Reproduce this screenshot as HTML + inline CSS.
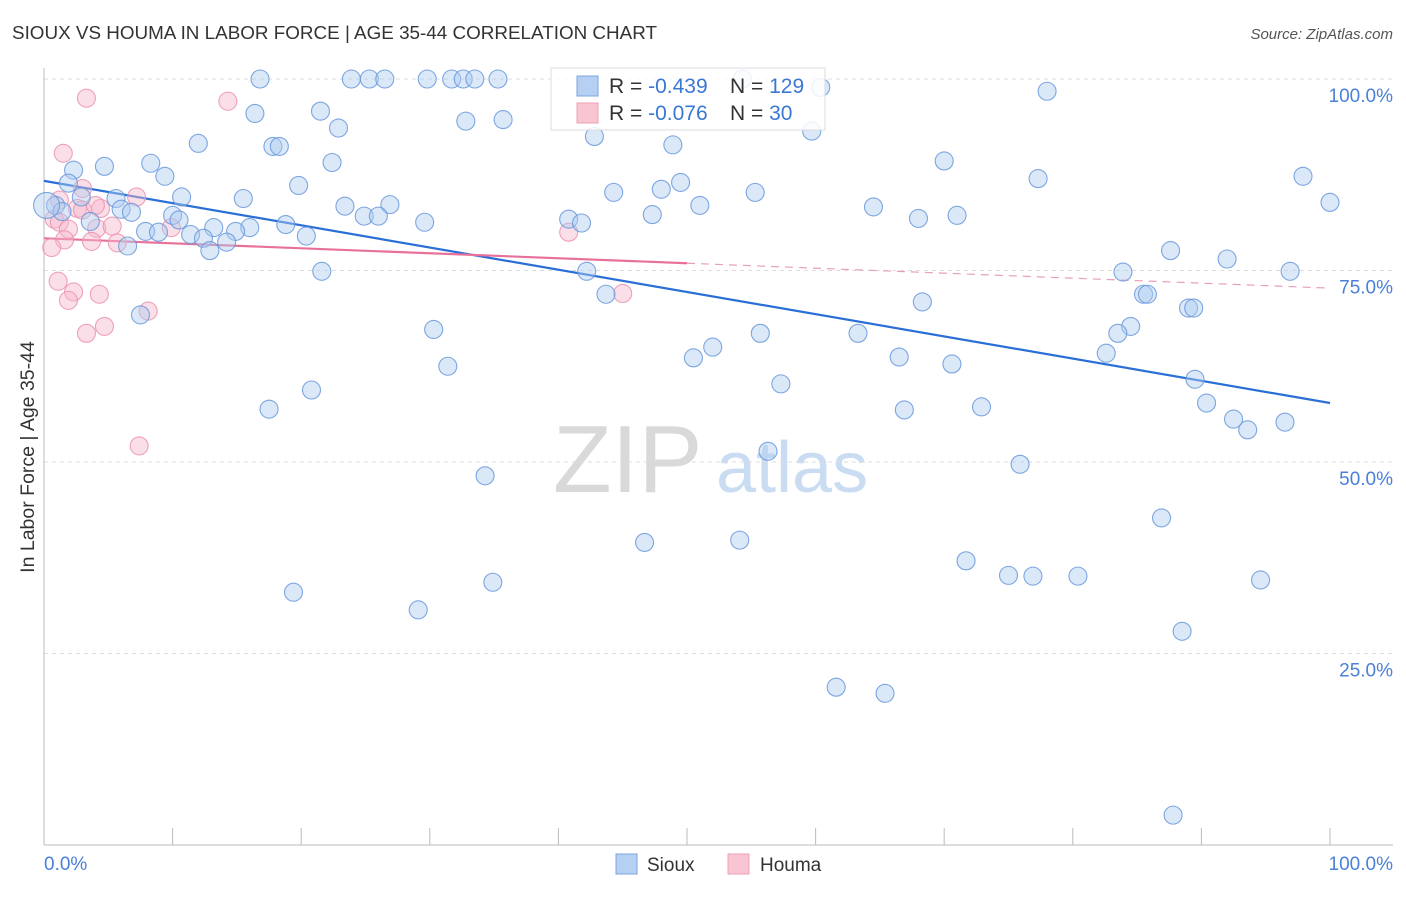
<!DOCTYPE html>
<html><head><meta charset="utf-8"><style>
body{margin:0;background:#fff;font-family:"Liberation Sans",sans-serif;}
svg text{font-family:"Liberation Sans",sans-serif;}
</style></head><body>
<svg id="chart" width="1406" height="892">
<text x="12" y="39" font-size="18.5" fill="#333" textLength="645" lengthAdjust="spacingAndGlyphs">SIOUX VS HOUMA IN LABOR FORCE | AGE 35-44 CORRELATION CHART</text>
<text x="1393" y="39" font-size="15" fill="#555" font-style="italic" text-anchor="end">Source: ZipAtlas.com</text>
<g>
<text x="553" y="492" font-size="96" fill="#d9d9d9" font-family="Liberation Serif,serif">ZIP</text>
<text x="716" y="492" font-size="72" fill="#c9dcf2">atlas</text>
</g>
<g id="grid"></g><g id="axes"></g><g id="trend"></g><g id="pts"></g>
<text transform="translate(34,457) rotate(-90)" font-size="19.5" fill="#333" text-anchor="middle">In Labor Force | Age 35-44</text>
<g>
<rect x="551" y="68" width="274" height="62" fill="#fff" fill-opacity="0.85" stroke="#ddd"/>
<rect x="577" y="76" width="21" height="20" fill="#b5d0f2" stroke="#7ca6e0"/>
<rect x="577" y="103" width="21" height="20" fill="#f9c5d3" stroke="#eea0b7"/>
<text x="609" y="93" font-size="21" fill="#333">R = <tspan fill="#3a78d4">-0.439</tspan></text>
<text x="730" y="93" font-size="21" fill="#333">N = <tspan fill="#3a78d4">129</tspan></text>
<text x="609" y="120" font-size="21" fill="#333">R = <tspan fill="#3a78d4">-0.076</tspan></text>
<text x="730" y="120" font-size="21" fill="#333">N = <tspan fill="#3a78d4"> 30</tspan></text>
</g>
<g>
<rect x="616" y="854" width="21" height="20" fill="#b5d0f2" stroke="#7ca6e0"/>
<text x="647" y="871" font-size="19" fill="#333">Sioux</text>
<rect x="728" y="854" width="21" height="20" fill="#f9c5d3" stroke="#eea0b7"/>
<text x="760" y="871" font-size="19" fill="#333">Houma</text>
</g>
</svg>
<script>
const yTicks=[25,50,75,100];
const yTickLabels=["25.0%","50.0%","75.0%","100.0%"];
const xTicks=[0,10,20,30,40,50,60,70,80,90,100];
const siouxX=[16.8,23.9,25.3,26.5,29.8,31.7,32.6,33.5,35.3,54.3,60.4,78.0,21.5,16.4,32.8,35.7,22.9,59.7,42.8,12.0,17.8,18.3,48.9,22.4,8.3,4.7,70.0,2.3,9.4,77.3,97.9,1.9,19.8,49.5,44.3,48.0,2.9,5.6,10.7,15.5,55.3,100,0.9,1.4,6.0,6.8,23.4,26.9,51.0,64.5,10.0,10.5,3.6,47.3,24.9,26.0,29.6,40.8,41.8,68.0,71.0,18.8,7.9,8.9,13.2,11.4,12.4,16.0,14.9,20.4,14.2,12.9,6.5,87.6,92.0,21.6,42.2,83.9,96.9,43.7,85.5,85.8,68.3,89.0,89.4,7.5,84.5,30.3,83.5,55.7,63.3,52.0,82.6,50.5,66.5,70.6,31.4,57.3,20.8,89.5,90.4,17.5,66.9,72.9,92.5,96.5,93.6,56.3,75.9,34.3,86.9,46.7,54.1,71.7,75.0,76.9,80.4,94.6,34.9,19.4,29.1,88.5,61.6,65.4,87.8,0.2];
const siouxY=[100,100,100,100,100,100,100,100,100,100,98.9,98.4,95.8,95.5,94.5,94.7,93.6,93.2,92.5,91.6,91.2,91.2,91.4,89.1,89.0,88.6,89.3,88.1,87.3,87.0,87.3,86.4,86.1,86.5,85.2,85.6,84.6,84.4,84.6,84.4,85.2,83.9,83.5,82.7,83.0,82.6,83.4,83.6,83.5,83.3,82.2,81.6,81.4,82.3,82.1,82.1,81.3,81.7,81.2,81.8,82.2,81.0,80.1,80.0,80.6,79.7,79.2,80.6,80.1,79.5,78.7,77.6,78.2,77.6,76.5,74.9,74.9,74.8,74.9,71.9,71.9,71.9,70.9,70.1,70.1,69.2,67.7,67.3,66.8,66.8,66.8,65.0,64.2,63.6,63.7,62.8,62.5,60.2,59.4,60.8,57.7,56.9,56.8,57.2,55.6,55.2,54.2,51.4,49.7,48.2,42.7,39.5,39.8,37.1,35.2,35.1,35.1,34.6,34.3,33.0,30.7,27.9,20.6,19.8,3.9,83.5];
const houmaX=[3.3,14.3,1.5,3.0,7.2,4.4,2.6,0.8,1.2,1.9,4.1,5.3,9.9,3.7,5.7,1.6,0.6,40.8,1.1,2.3,1.9,4.3,8.1,3.3,4.7,7.4,45.0,1.2,3.0,4.0];
const houmaY=[97.5,97.1,90.3,85.7,84.6,83.1,83.1,81.7,81.3,80.4,80.5,80.8,80.6,78.8,78.6,79.0,78.0,80.0,73.6,72.2,71.1,71.9,69.7,66.8,67.7,52.1,72.0,84.2,82.9,83.5];
const siouxTrend=[86.7,57.7]; // value at x=0, x=100
const houmaTrend=[79.2,72.7];
const houmaSolidEnd=50;

const X=v=>44+v*12.86, Y=v=>845-v*7.66;
const NS='http://www.w3.org/2000/svg';
function mk(tag,attrs,parent){const e=document.createElementNS(NS,tag);for(const k in attrs)e.setAttribute(k,attrs[k]);document.getElementById(parent).appendChild(e);return e;}
yTicks.forEach((t,i)=>{
  const g=mk('line',{x1:44,x2:1393,y1:Y(t),y2:Y(t),stroke:'#ddd','stroke-dasharray':'4,4'},'grid');
  
  
  const l=mk('text',{x:1393,y:Y(t)+23,'text-anchor':'end','font-size':19,fill:'#4a80d8'},'grid');
  l.textContent=yTickLabels[i];
  
  
});
const ax=mk('line',{x1:44,x2:1393,y1:845,y2:845,stroke:'#bbb'},'axes');


const ay=mk('line',{x1:44,x2:44,y1:68,y2:845,stroke:'#bbb'},'axes');


xTicks.forEach(t=>{
  const k=mk('line',{x1:X(t),x2:X(t),y1:828,y2:845,stroke:'#bbb'},'axes');
  
  
});
const xl0=mk('text',{x:44,y:870,'font-size':19,fill:'#4a80d8'},'axes');xl0.textContent='0.0%';


const xl1=mk('text',{x:1393,y:870,'font-size':19,fill:'#4a80d8','text-anchor':'end'},'axes');xl1.textContent='100.0%';


function pts(xs,ys,fill,stroke,name){xs.forEach((x,i)=>{
  const c=mk('circle',{cx:X(x),cy:Y(ys[i]),r:(name==='sioux-point'&&i===xs.length-1)?13:9,fill:fill,'fill-opacity':0.45,stroke:stroke,'stroke-opacity':0.85,'stroke-width':1.1},'pts');
  
  
});}
pts(houmaX,houmaY,'#f7b9cb','#eb93ae','houma-point');
pts(siouxX,siouxY,'#aecbf0','#6898dc','sioux-point');
const lerp=(tr,x)=>tr[0]+(tr[1]-tr[0])*x/100;
const t1=mk('line',{x1:X(0),y1:Y(lerp(siouxTrend,0)),x2:X(100),y2:Y(lerp(siouxTrend,100)),stroke:'#2a6fd6','stroke-width':2.2},'trend');


const t2=mk('line',{x1:X(0),y1:Y(lerp(houmaTrend,0)),x2:X(houmaSolidEnd),y2:Y(lerp(houmaTrend,houmaSolidEnd)),stroke:'#e8719a','stroke-width':2.2},'trend');


const t3=mk('line',{x1:X(houmaSolidEnd),y1:Y(lerp(houmaTrend,houmaSolidEnd)),x2:X(100),y2:Y(lerp(houmaTrend,100)),stroke:'#e8a0b8','stroke-width':1.2,'stroke-dasharray':'8,6'},'trend');


</script>
</body></html>
